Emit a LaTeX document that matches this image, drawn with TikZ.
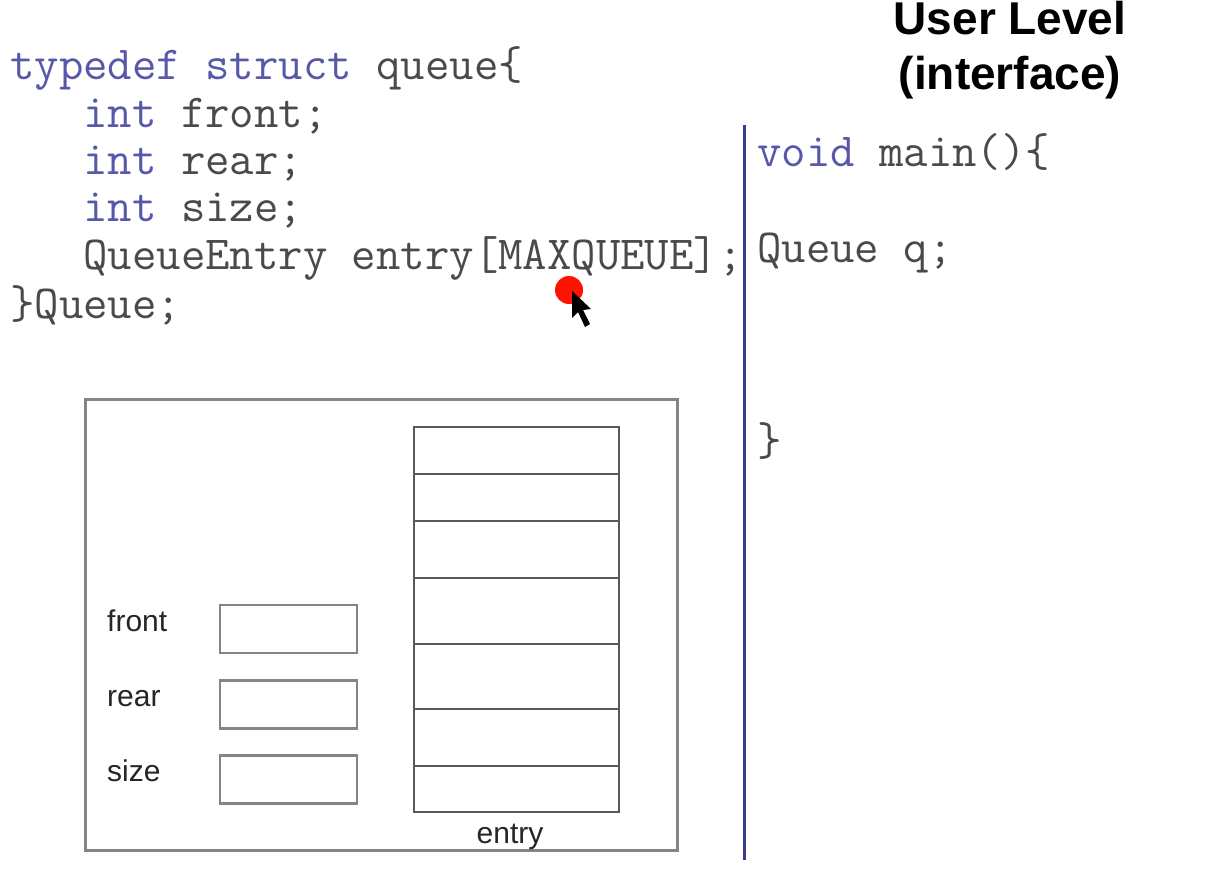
\documentclass[tikz,border=0pt]{standalone}
\usepackage{fontspec}
\setmainfont{Liberation Sans}
\definecolor{kw}{HTML}{5858AA}
\definecolor{codegray}{HTML}{4A4A4A}
\definecolor{boxgray}{HTML}{858585}
\definecolor{divider}{HTML}{3C3C8C}
\tikzset{
  code/.style={anchor=base west, inner sep=0pt, text=codegray, font=\ttfamily\fontsize{47.4}{52}\selectfont},
  label/.style={anchor=base west, inner sep=0pt, text=black!85, font=\fontsize{30}{36}\selectfont},
  title/.style={align=center, inner sep=0pt, font=\bfseries\fontsize{46}{55}\selectfont},
  field/.style={draw=boxgray, line width=2.5pt, minimum width=137pt, minimum height=48pt, inner sep=0pt},
  cell/.style={draw=black!65, line width=2pt},
}
\begin{document}
\begin{tikzpicture}[x=1pt,y=-1pt]
\useasboundingbox[fill=white] (0,0) rectangle (1231,877);

% title
\node[title] (title) at (1010,50) {User Level\\(interface)};

% divider
\coordinate (dtop) at (744,125);
\coordinate (dbot) at (744,860);
\draw[divider, line width=3pt] (dtop) -- (dbot);

% struct code
\node[code] (l1) at (10,80) {\textcolor{kw}{typedef struct} queue\{};
\node[code] (l2) at (10,128) {\hphantom{xxx}\textcolor{kw}{int} front;};
\node[code] (l3) at (10,175) {\hphantom{xxx}\textcolor{kw}{int} rear;};
\node[code] (l4) at (10,222) {\hphantom{xxx}\textcolor{kw}{int} size;};
\node[code] (l5) at (10,270) {\hphantom{xxx}QueueEntry entry[MAXQUEUE];};
\node[code] (l6) at (10,318) {\}Queue;};

% main code
\node[code] (m1) at (757,167) {\textcolor{kw}{void} main()\{};
\node[code] (m2) at (757,263) {Queue q;};
\node[code] (m3) at (757,455) {\}};

% outer box
\node[draw=boxgray, line width=3pt, minimum width=592pt, minimum height=451pt, inner sep=0pt] (outer) at (381,624.5) {};

% entry array
\foreach \a/\b [count=\i] in {427/474,474/521,521/578,578/644,644/709,709/766,766/812}{
  \draw[cell] (414,\a) rectangle (619,\b);
}
\node[label, anchor=base] (entry) at (510,843) {entry};

% fields
\node[field] (fbox) at (288.5,629) {};
\node[field] (rbox) at (288.5,704.5) {};
\node[field] (sbox) at (288.5,779.5) {};
\node[label] (front) at (107,631) {front};
\node[label] (rear) at (107,706) {rear};
\node[label] (size) at (107,781) {size};

% pointer
\fill[red!85!orange] (569,290) circle (14);
\fill[black] (572,291) -- (572,318) -- (578,312) -- (585,327) -- (590,324) -- (583,310) -- (591,309) -- cycle;
\end{tikzpicture}
\end{document}
